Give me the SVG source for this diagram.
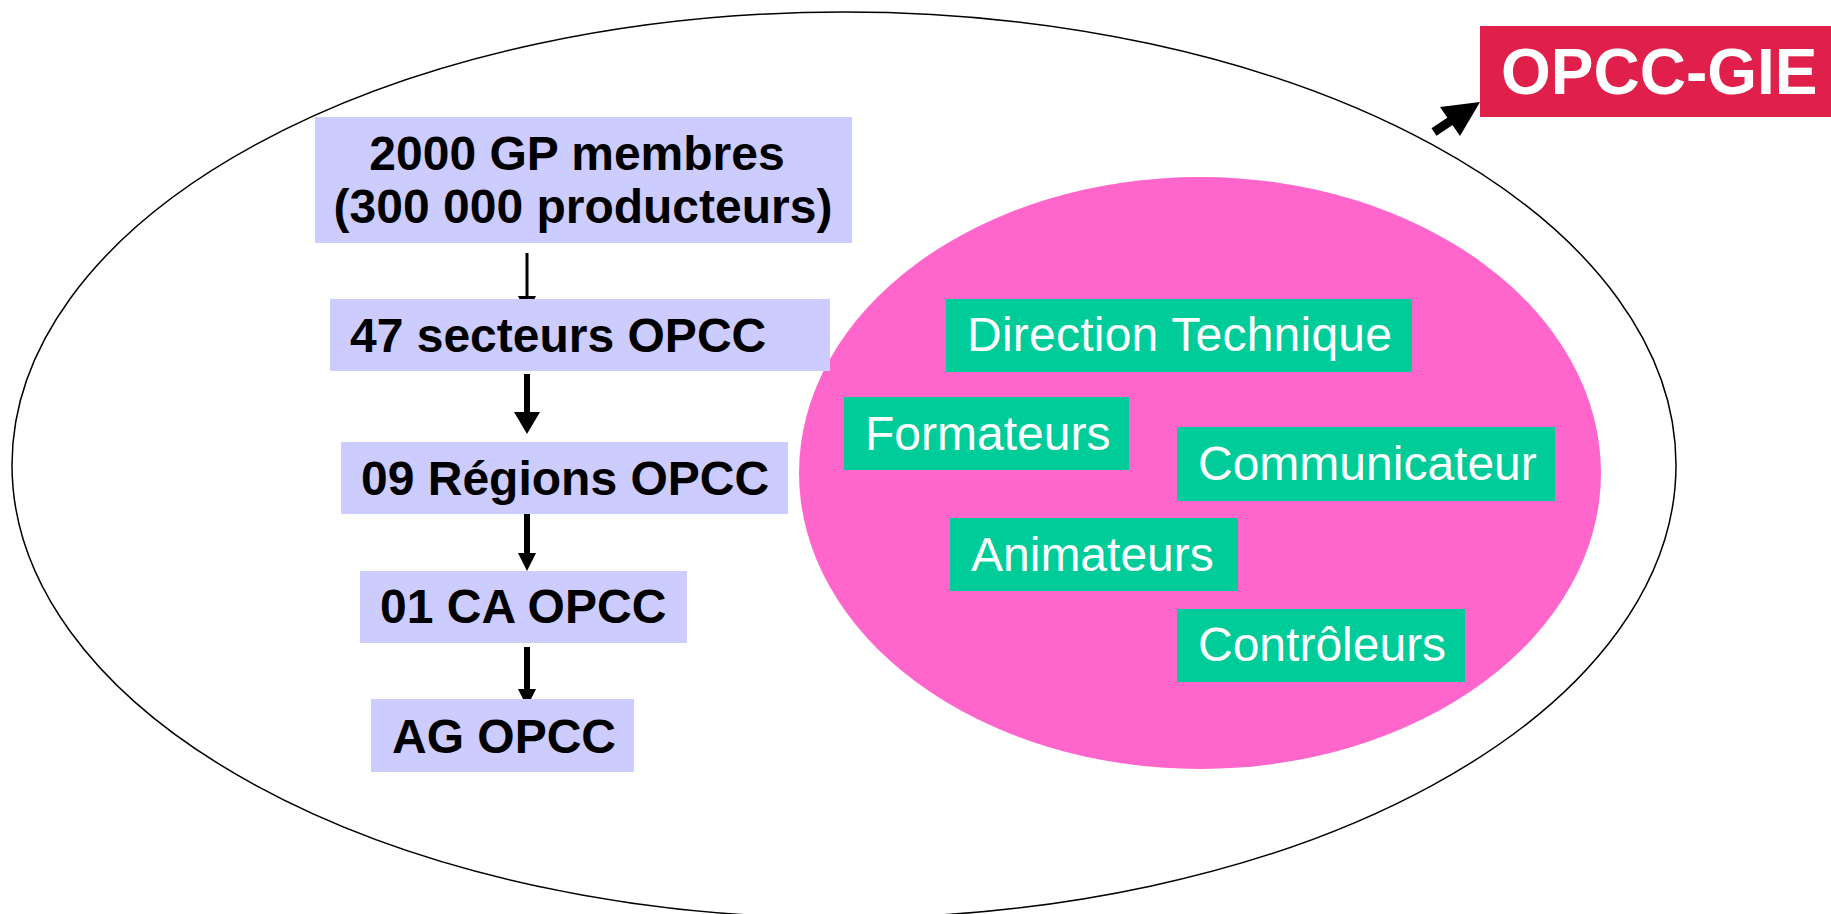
<svg xmlns="http://www.w3.org/2000/svg" width="1831" height="914" viewBox="0 0 1831 914">
<style>
.lav{fill:#CCCCFF}
.grn{fill:#00CC99}
.bt{font-family:"Liberation Sans",Arial,sans-serif;font-weight:bold;font-size:48px;fill:#000}
.gt{font-family:"Liberation Sans",Arial,sans-serif;font-size:48px;fill:#fff}
</style>
<rect width="1831" height="914" fill="#fff"/>
<g id="outer"><ellipse cx="844" cy="465" rx="832" ry="453" fill="none" stroke="#000" stroke-width="1.5"/></g>
<g id="inner"><ellipse cx="1200" cy="473" rx="401" ry="296" fill="#FF66CC"/></g>
<g id="connectors" fill="#000" stroke="#000">
<line x1="527" y1="253" x2="527" y2="298" stroke-width="3"/>
<polygon points="518,296 536,296 527,314" stroke="none"/>
<line x1="527" y1="374" x2="527" y2="413" stroke-width="6"/>
<polygon points="514,412 540,412 527,434" stroke="none"/>
<line x1="527" y1="511" x2="527" y2="554" stroke-width="6"/>
<polygon points="518,553 536,553 527,571" stroke="none"/>
<line x1="527" y1="647" x2="527" y2="690" stroke-width="6"/>
<polygon points="518,689 536,689 527,707" stroke="none"/>
<line x1="1434" y1="132" x2="1452" y2="120" stroke-width="9"/>
<polygon points="1480,102 1440,107 1460,136" stroke="none"/>
</g>
<g id="n1"><rect class="lav" x="315" y="117" width="537" height="126"/>
<text class="bt" x="577" y="170" text-anchor="middle">2000 GP membres</text>
<text class="bt" x="583" y="223" text-anchor="middle">(300 000 producteurs)</text></g>
<g id="n2"><rect class="lav" x="330" y="299" width="500" height="72"/><text class="bt" x="350" y="352">47 secteurs OPCC</text></g>
<g id="n3"><rect class="lav" x="341" y="442" width="447" height="72"/><text class="bt" x="361" y="495">09 Régions OPCC</text></g>
<g id="n4"><rect class="lav" x="360" y="571" width="327" height="72"/><text class="bt" x="380" y="623">01 CA OPCC</text></g>
<g id="n5"><rect class="lav" x="371" y="699" width="263" height="73"/><text class="bt" x="392" y="753">AG OPCC</text></g>
<g id="gie"><rect x="1480" y="26" width="351" height="91" fill="#E0204A"/><text x="1501" y="94" font-family="'Liberation Sans',Arial,sans-serif" font-weight="bold" font-size="64" fill="#fff">OPCC-GIE</text></g>
<g id="g1"><rect class="grn" x="946" y="299" width="466" height="73"/><text class="gt" x="967" y="351" textLength="425" lengthAdjust="spacing">Direction Technique</text></g>
<g id="g2"><rect class="grn" x="844" y="397" width="285" height="73"/><text class="gt" x="865" y="450">Formateurs</text></g>
<g id="g3"><rect class="grn" x="1177" y="427" width="378" height="74"/><text class="gt" x="1198" y="480">Communicateur</text></g>
<g id="g4"><rect class="grn" x="950" y="518" width="288" height="73"/><text class="gt" x="971" y="571">Animateurs</text></g>
<g id="g5"><rect class="grn" x="1177" y="609" width="288" height="73"/><text class="gt" x="1198" y="661">Contrôleurs</text></g>
</svg>
